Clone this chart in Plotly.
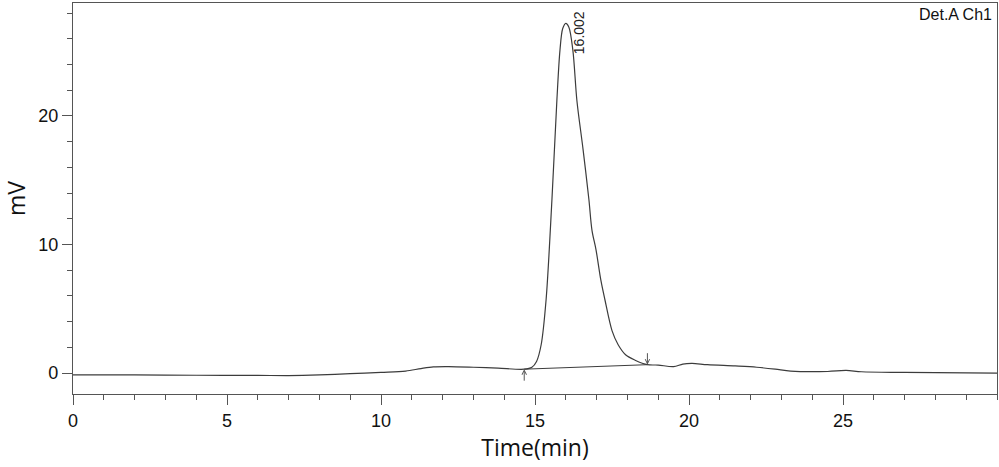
import plotly.graph_objects as go

# Chromatogram trace (time in min, signal in mV)
time_min = [0.0, 2.0, 4.0, 6.0, 7.0, 8.0, 9.0, 10.0, 10.8, 11.3, 11.7, 12.2, 13.0, 13.8,
            14.65, 14.9, 15.05, 15.2, 15.36, 15.55, 15.71, 15.81, 15.9, 16.0, 16.1, 16.23, 16.36,
            16.56, 16.75, 16.85, 16.98, 17.14, 17.27, 17.5, 17.7, 17.95, 18.25, 18.65, 19.0, 19.5,
            19.8, 20.1, 20.6, 21.5, 22.2, 22.8, 23.3, 24.5, 25.1, 25.6, 27.0, 30.0]
signal_mv = [-0.15, -0.15, -0.17, -0.18, -0.2, -0.15, -0.05, 0.05, 0.15, 0.35, 0.48, 0.5, 0.45, 0.38,
             0.3, 0.45, 0.9, 2.2, 5.7, 13.5, 21.2, 25.1, 26.8, 27.2, 26.9, 25.1, 21.2,
             17.4, 13.5, 11.1, 9.6, 7.2, 5.7, 3.3, 2.2, 1.4, 1.0, 0.65, 0.62, 0.5,
             0.7, 0.75, 0.65, 0.55, 0.45, 0.3, 0.15, 0.12, 0.2, 0.1, 0.05, 0.0]

# Integration baseline under the peak
baseline_t = [14.65, 18.65]
baseline_mv = [0.3, 0.65]

peak_rt = 16.002
peak_height = 27.2
peak_label = "16.002"

x_major = [0, 5, 10, 15, 20, 25]
y_major = [0, 10, 20]

line_col = "#3c3c3c"
axis_col = "#555555"

fig = go.Figure()
fig.add_trace(go.Scatter(x=time_min, y=signal_mv, mode="lines",
                         line=dict(color=line_col, width=1.2, shape="spline", smoothing=0.9),
                         showlegend=False, hoverinfo="skip"))
fig.add_trace(go.Scatter(x=baseline_t, y=baseline_mv, mode="lines",
                         line=dict(color=line_col, width=1.0),
                         showlegend=False, hoverinfo="skip"))

# start (up) and end (down) arrows of the baseline
fig.add_annotation(x=baseline_t[0], y=baseline_mv[0], ax=0, ay=13, xref="x", yref="y",
                   showarrow=True, arrowhead=5, arrowsize=0.9, arrowwidth=1,
                   arrowcolor="#555555", text="", standoff=0)
fig.add_annotation(x=baseline_t[1], y=baseline_mv[1], ax=0, ay=-13, xref="x", yref="y",
                   showarrow=True, arrowhead=5, arrowsize=0.9, arrowwidth=1,
                   arrowcolor="#555555", text="", standoff=0)

# peak retention-time label
fig.add_annotation(x=peak_rt, y=peak_height, text=peak_label, textangle=-90,
                   showarrow=False, xanchor="left", yanchor="middle",
                   xshift=3, yshift=-9,
                   font=dict(family="Liberation Sans, Arial", size=14, color="#222222"))

fig.add_annotation(x=1, y=1, xref="paper", yref="paper", text="Det.A Ch1",
                   showarrow=False, xanchor="right", yanchor="top", xshift=-3, yshift=-1,
                   font=dict(family="Liberation Sans, Arial", size=16, color="#111111"))

tick_font = dict(family="Liberation Sans, Arial", size=18, color="#111111")
title_font = dict(family="Open Sans, Noto Sans", size=23, color="#111111")

fig.update_xaxes(range=[0, 30], tickvals=x_major, ticktext=[str(v) for v in x_major],
                 ticks="outside", ticklen=10, tickwidth=1, tickcolor=axis_col,
                 minor=dict(dtick=1, tick0=0, ticks="outside", ticklen=5, tickwidth=1,
                            tickcolor=axis_col, showgrid=False),
                 showline=True, linecolor=axis_col, linewidth=1.3, mirror=True,
                 showgrid=False, zeroline=False, tickfont=tick_font,
                 title=dict(text="Time(min)", font=title_font, standoff=8))
fig.update_yaxes(range=[-1.63, 28.78], tickvals=y_major, ticktext=[str(v) for v in y_major],
                 ticks="outside", ticklen=10, tickwidth=1, tickcolor=axis_col,
                 minor=dict(dtick=2, tick0=0, ticks="outside", ticklen=5, tickwidth=1,
                            tickcolor=axis_col, showgrid=False),
                 showline=True, linecolor=axis_col, linewidth=1.3, mirror=True,
                 showgrid=False, zeroline=False, tickfont=tick_font,
                 title=dict(text="mV", font=title_font, standoff=14))

fig.update_layout(width=999, height=467, margin=dict(l=73, r=2, t=3, b=73),
                  plot_bgcolor="white", paper_bgcolor="white")

fig.write_html("out.html")
